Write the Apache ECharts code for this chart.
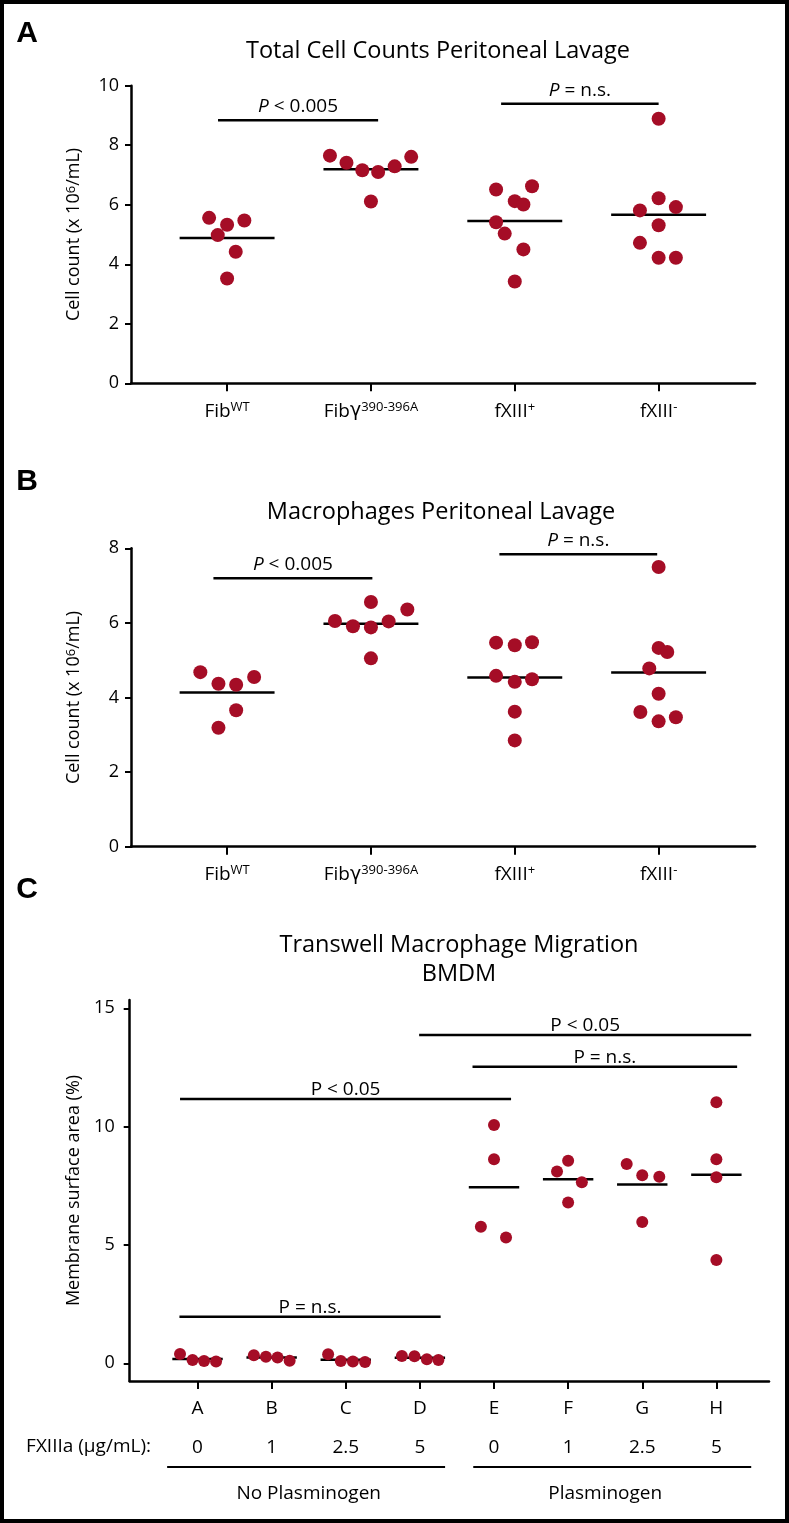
<!DOCTYPE html>
<html><head><meta charset="utf-8">
<script src="https://cdn.jsdelivr.net/npm/echarts@6/dist/echarts.min.js"></script>
<style>html,body{margin:0;padding:0;background:#fff}#c{width:789px;height:1523px}</style>
</head><body><div id="c"></div>
<script>
// ---------- DATA ----------
// Panels A & B: categories (rich text for superscripts)
const catsAB = ['Fib{sup|WT}', 'Fib{g|γ}{sup|390-396A}', 'fXIII{sup|+}', 'fXIII{sup|-}'];
const yTicksA = [0, 2, 4, 6, 8, 10];
const yTicksB = [0, 2, 4, 6, 8];

// Panel A values (x 10^6/mL) and horizontal jitter (fraction of category spacing)
const aFibWT   = [5.56, 5.33, 5.47, 4.98, 4.42, 3.52];
const aFibG    = [7.65, 7.41, 7.16, 7.10, 7.29, 7.61, 6.11];
const aF13pos  = [6.51, 6.62, 6.12, 6.01, 5.41, 5.03, 4.50, 3.42];
const aF13neg  = [8.89, 6.22, 5.92, 5.81, 5.31, 4.72, 4.22, 4.22];
const aJitter = [
  [-0.125, 0, 0.12, -0.065, 0.06, 0],
  [-0.285, -0.17, -0.06, 0.05, 0.165, 0.28, 0],
  [-0.13, 0.12, 0, 0.06, -0.13, -0.07, 0.06, 0],
  [0, 0, 0.12, -0.13, 0, -0.13, 0, 0.12]
];
// Panel B values
const bFibWT   = [4.68, 4.37, 4.34, 4.55, 3.66, 3.19];
const bFibG    = [6.56, 6.36, 6.05, 5.91, 5.88, 6.04, 5.05];
const bF13pos  = [5.47, 5.40, 5.48, 4.58, 4.42, 4.49, 3.62, 2.85];
const bF13neg  = [7.50, 5.33, 5.22, 4.78, 4.10, 3.61, 3.36, 3.47];
const bJitter = [
  [-0.186, -0.06, 0.063, 0.188, 0.063, -0.06],
  [0, 0.253, -0.25, -0.125, 0, 0.123, 0],
  [-0.13, 0, 0.12, -0.13, 0, 0.12, 0, 0],
  [0, 0, 0.06, -0.065, 0, -0.127, 0, 0.12]
];
// Significance brackets (category units, value units)
const sigA = [
  {x0: -0.063, x1: 1.05, y: 8.84, label: '{i|P} < 0.005'},
  {x0: 1.905, x1: 3.0, y: 9.39, label: '{i|P} = n.s.'}
];
const sigB = [
  {x0: -0.095, x1: 1.01, y: 7.2, label: '{i|P} < 0.005'},
  {x0: 1.893, x1: 2.99, y: 7.84, label: '{i|P} = n.s.'}
];

// Panel C
const catsC  = ['A', 'B', 'C', 'D', 'E', 'F', 'G', 'H'];
const dosesC = ['0', '1', '2.5', '5', '0', '1', '2.5', '5'];
const yTicksC = [0, 5, 10, 15];
const cA = [0.39, 0.14, 0.10, 0.07];
const cB = [0.34, 0.27, 0.24, 0.11];
const cC = [0.38, 0.10, 0.07, 0.05];
const cD = [0.31, 0.30, 0.17, 0.14];
const cE = [10.07, 8.62, 5.77, 5.31];
const cF = [8.56, 8.10, 7.65, 6.79];
const cG = [8.42, 7.94, 7.88, 5.97];
const cH = [11.03, 8.62, 7.86, 4.36];
const cJitter = [
  [-0.236, -0.067, 0.088, 0.25],
  [-0.24, -0.077, 0.08, 0.243],
  [-0.238, -0.067, 0.096, 0.26],
  [-0.243, -0.073, 0.094, 0.25],
  [0, 0, -0.177, 0.162],
  [0, -0.15, 0.185, 0],
  [-0.21, 0, 0.23, 0],
  [0, 0, 0, 0]
];
const sigC = [
  {x0: 2.99, x1: 7.47, y: 13.87, label: 'P < 0.05'},
  {x0: 3.71, x1: 7.28, y: 12.53, label: 'P = n.s.'},
  {x0: -0.236, x1: 4.23, y: 11.17, label: 'P < 0.05'},
  {x0: -0.244, x1: 3.28, y: 1.96, label: 'P = n.s.'}
];
const groupsC = [
  {name: 'No Plasminogen', from: -0.41, to: 3.34, center: 1.5},
  {name: 'Plasminogen', from: 3.72, to: 7.47, center: 5.5}
];

const valuesA = [aFibWT, aFibG, aF13pos, aF13neg];
const valuesB = [bFibWT, bFibG, bF13pos, bF13neg];
const valuesC = [cA, cB, cC, cD, cE, cF, cG, cH];

// ---------- STYLE ----------
const FONT = '"Open Sans", "Noto Sans", sans-serif';
const RED = '#a50d26';
const INK = '#000';
const LBL = 19;

function dots(values, jitter, ai, size) {
  return values.map((vals, i) => ({
    type: 'scatter', xAxisIndex: ai, yAxisIndex: ai, symbolSize: size, silent: true, z: 4,
    itemStyle: {color: RED, opacity: 1},
    data: vals.map((v, j) => [i + jitter[i][j], v])
  }));
}
function means(values, half, ai) {
  return values.map((vals, i) => {
    const m = vals.reduce((a, b) => a + b, 0) / vals.length;
    return {type: 'line', xAxisIndex: ai, yAxisIndex: ai, symbol: 'none', silent: true, z: 3,
      lineStyle: {color: INK, width: 2.5}, data: [[i - half, m], [i + half, m]]};
  });
}
function sigs(bars, ai, dist) {
  const out = [];
  bars.forEach(b => {
    out.push({type: 'line', xAxisIndex: ai, yAxisIndex: ai, symbol: 'none', silent: true, z: 3,
      lineStyle: {color: INK, width: 2.5}, data: [[b.x0, b.y], [b.x1, b.y]]});
    out.push({type: 'scatter', xAxisIndex: ai, yAxisIndex: ai, symbolSize: 0, silent: true, z: 5,
      itemStyle: {color: INK, opacity: 1},
      data: [[(b.x0 + b.x1) / 2, b.y]],
      label: {show: true, position: 'top', distance: dist, formatter: b.label, color: INK, opacity: 1,
        fontFamily: FONT, fontSize: LBL,
        rich: {i: {fontStyle: 'italic', fontFamily: FONT, fontSize: LBL, color: INK}}}});
  });
  return out;
}
const supRich = {
  sup: {fontSize: 13, fontFamily: FONT, color: INK, verticalAlign: 'top', lineHeight: 12},
  g: {fontSize: LBL, fontFamily: '"DejaVu Sans", sans-serif', color: INK}
};
const axisLineStyle = {color: INK, width: 2.5};
const tickStyle = {color: INK, width: 2};

function xAB(gi) {
  return {type: 'value', gridIndex: gi, position: 'bottom', min: -0.668, max: 3.67,
    axisLine: {show: true, onZero: false, lineStyle: axisLineStyle},
    axisTick: {show: true, customValues: [0, 1, 2, 3], length: 8, lineStyle: tickStyle},
    axisLabel: {customValues: [0, 1, 2, 3], formatter: v => catsAB[Math.round(v)], margin: 17,
      color: INK, fontFamily: FONT, fontSize: LBL, lineHeight: 22, rich: supRich},
    splitLine: {show: false}};
}
function yAxisCommon(gi, extra) {
  return Object.assign({type: 'value', gridIndex: gi, position: 'left',
    axisLine: {show: true, onZero: false, lineStyle: axisLineStyle},
    axisTick: {show: true, length: 6, lineStyle: tickStyle},
    axisLabel: {margin: 12, color: INK, fontFamily: FONT, fontSize: 18},
    splitLine: {show: false},
    nameLocation: 'middle', nameRotate: 90,
    nameTextStyle: {color: INK, fontFamily: FONT, fontSize: 18, rich: supRich}}, extra);
}
function xC(extra) {
  return Object.assign({type: 'value', gridIndex: 2, position: 'bottom', min: -0.915, max: 7.71,
    splitLine: {show: false}}, extra);
}

const chart = echarts.init(document.getElementById('c'), null, {renderer: 'canvas'});
const option = {
  animation: false,
  backgroundColor: '#fff',
  grid: [
    {left: 131, top: 85.7, width: 624, height: 297.6, outerBoundsMode: 'none'},
    {left: 131, top: 548.3, width: 624, height: 298.4, outerBoundsMode: 'none'},
    {left: 129.7, top: 1000, width: 639.3, height: 381, outerBoundsMode: 'none'}
  ],
  xAxis: [
    xAB(0), xAB(1),
    xC({axisLine: {show: true, onZero: false, lineStyle: axisLineStyle},
      axisTick: {show: true, customValues: [0,1,2,3,4,5,6,7], length: 8, lineStyle: tickStyle},
      axisLabel: {customValues: [0,1,2,3,4,5,6,7], formatter: v => catsC[Math.round(v)], margin: 18,
        color: INK, fontFamily: FONT, fontSize: LBL}}),
    xC({offset: 39, axisLine: {show: false, onZero: false}, axisTick: {show: false},
      axisLabel: {customValues: [0,1,2,3,4,5,6,7], formatter: v => dosesC[Math.round(v)], margin: 18,
        color: INK, fontFamily: FONT, fontSize: LBL}}),
    xC({offset: 85, axisLine: {show: false, onZero: false}, axisTick: {show: false},
      axisLabel: {customValues: groupsC.map(g => g.center),
        formatter: v => (groupsC.find(g => Math.abs(g.center - v) < 0.01) || {name: ''}).name, margin: 18,
        color: INK, fontFamily: FONT, fontSize: LBL}})
  ],
  yAxis: [
    yAxisCommon(0, {min: 0, max: 10, interval: 2, name: 'Cell count (x 10{sup|6}/mL)', nameGap: 48}),
    yAxisCommon(1, {min: 0, max: 8, interval: 2, name: 'Cell count (x 10{sup|6}/mL)', nameGap: 48}),
    yAxisCommon(2, {min: -0.75, max: 15.35, name: 'Membrane surface area (%)', nameGap: 45,
      axisTick: {show: true, length: 6, lineStyle: tickStyle, customValues: yTicksC},
      axisLabel: {margin: 15, color: INK, fontFamily: FONT, fontSize: 18, customValues: yTicksC}})
  ],
  series: [].concat(
    means(valuesA, 0.33, 0), dots(valuesA, aJitter, 0, 14), sigs(sigA, 0, 4),
    means(valuesB, 0.33, 1), dots(valuesB, bJitter, 1, 14), sigs(sigB, 1, 4),
    means(valuesC, 0.34, 2), dots(valuesC, cJitter, 2, 12), sigs(sigC, 2, 0)
  )
};
chart.setOption(option);

// ---------- annotations (titles, letters, group rules) ----------
function txt(text, x, y, size, weight, family, align) {
  return {type: 'text', x: x, y: y, silent: true, z: 10,
    style: {text: text, fontSize: size, fontWeight: weight || 'normal', fontFamily: family || FONT,
      fill: INK, align: align || 'center', verticalAlign: 'middle'}};
}
const LETTER = '"Liberation Sans", Arial, sans-serif';
const g = [
  {type: 'rect', silent: true, z: 20, shape: {x: 2, y: 2, width: 785, height: 1519},
    style: {fill: null, stroke: '#000', lineWidth: 4}},
  txt('A', 27, 34, 30, 'bold', LETTER),
  txt('B', 27, 482, 30, 'bold', LETTER),
  txt('C', 27, 890, 30, 'bold', LETTER),
  txt('Total Cell Counts Peritoneal Lavage', 438, 51, 23.5),
  txt('Macrophages Peritoneal Lavage', 441, 512, 23.5),
  txt('Transwell Macrophage Migration', 459, 945, 23.5),
  txt('BMDM', 459, 974, 23.5),
  txt('FXIIIa (µg/mL):', 151, 1447, LBL, 'normal', FONT, 'right')
];
groupsC.forEach(gr => {
  const p0 = chart.convertToPixel({xAxisIndex: 2, yAxisIndex: 2}, [gr.from, 0]);
  const p1 = chart.convertToPixel({xAxisIndex: 2, yAxisIndex: 2}, [gr.to, 0]);
  g.push({type: 'line', silent: true, z: 10, shape: {x1: p0[0], y1: 1467, x2: p1[0], y2: 1467},
    style: {stroke: INK, lineWidth: 2}});
});
chart.setOption({graphic: g});
</script>
</body></html>
